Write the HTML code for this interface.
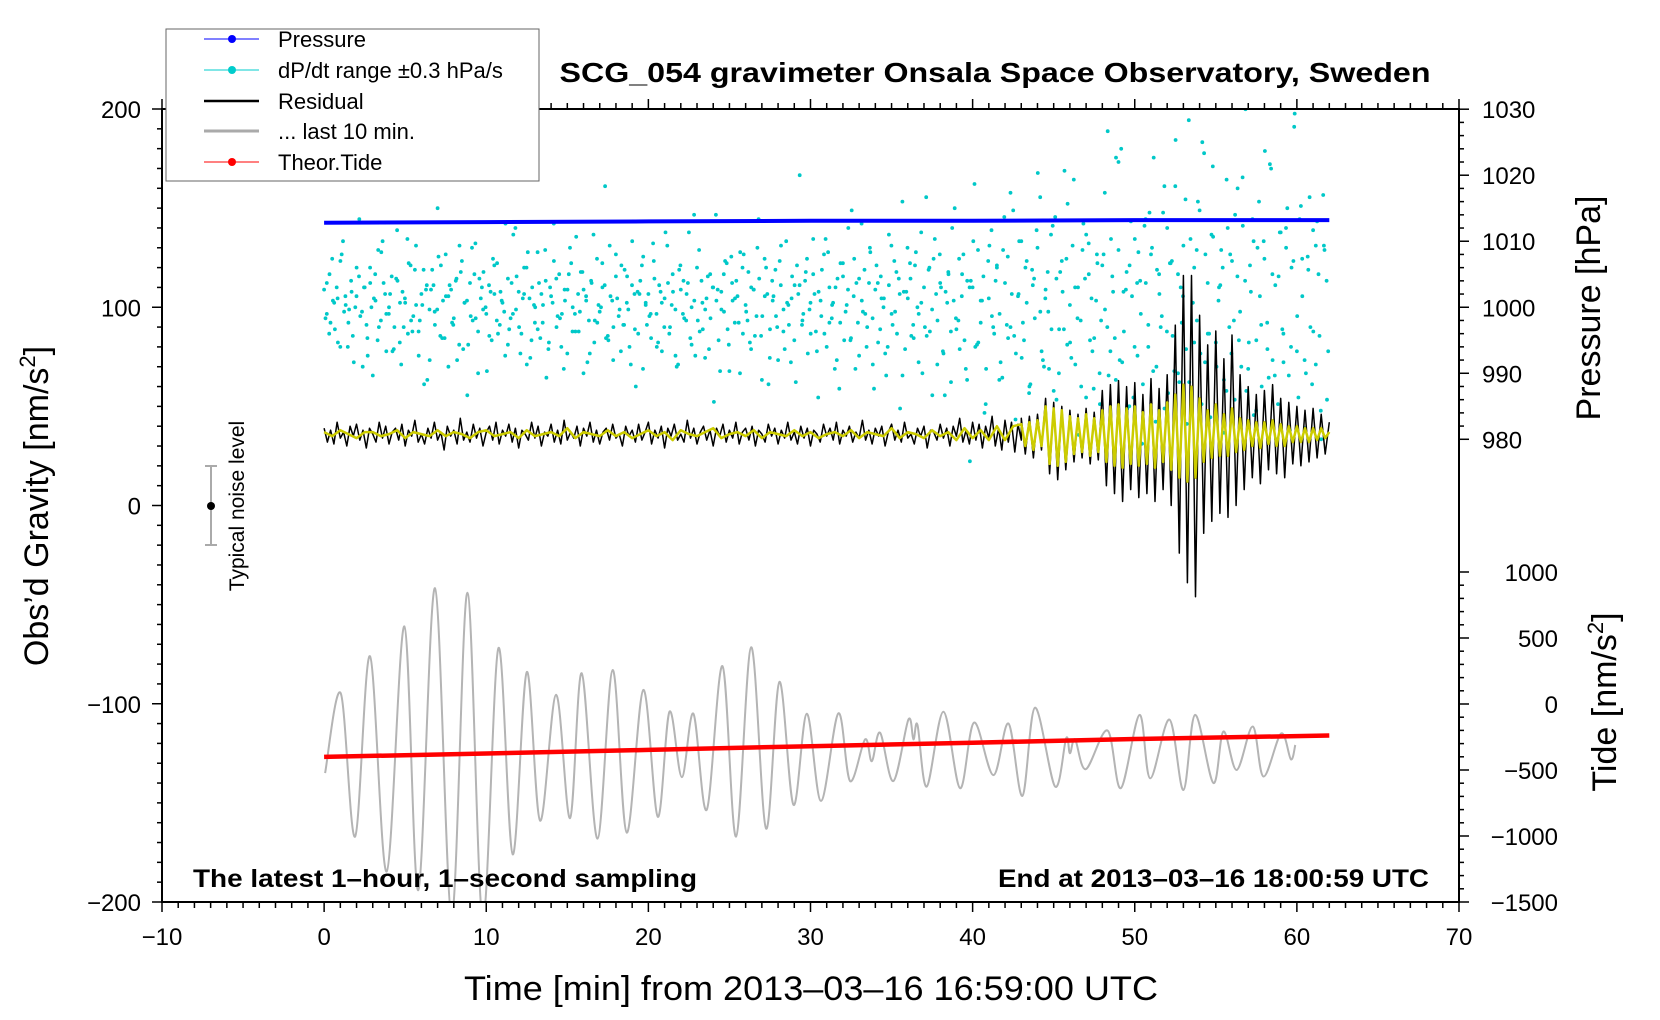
<!DOCTYPE html>
<html><head><meta charset="utf-8"><style>
html,body{margin:0;padding:0;background:#fff;}
svg{display:block;font-family:"Liberation Sans",Arial,sans-serif;}
</style></head><body>
<svg id="chart" width="1660" height="1020" viewBox="0 0 1660 1020" xmlns="http://www.w3.org/2000/svg">
<defs><clipPath id="pc"><rect x="162" y="109" width="1297" height="793"/></clipPath></defs>
<g id="marks" clip-path="url(#pc)"></g>
<rect x="162" y="109" width="1297" height="793" fill="none" stroke="#000" stroke-width="2"/>
<g id="axes"></g>
<text x="995" y="82" text-anchor="middle" font-size="28" font-weight="bold" textLength="871" lengthAdjust="spacingAndGlyphs">SCG_054 gravimeter Onsala Space Observatory, Sweden</text>
<text x="193" y="887" font-size="25" font-weight="bold" textLength="504" lengthAdjust="spacingAndGlyphs">The latest 1–hour, 1–second sampling</text>
<text x="1429" y="887" text-anchor="end" font-size="25" font-weight="bold" textLength="431" lengthAdjust="spacingAndGlyphs">End at 2013–03–16 18:00:59 UTC</text>
<text x="811" y="1000" text-anchor="middle" font-size="34" textLength="694" lengthAdjust="spacingAndGlyphs">Time [min] from 2013–03–16 16:59:00 UTC</text>
<text transform="translate(48,506) rotate(-90)" text-anchor="middle" font-size="34">Obs’d Gravity [nm/s<tspan font-size="22" dy="-13">2</tspan><tspan dy="13">]</tspan></text>
<text transform="translate(1600,308) rotate(-90)" text-anchor="middle" font-size="34">Pressure [hPa]</text>
<text transform="translate(1616,702) rotate(-90)" text-anchor="middle" font-size="34">Tide [nm/s<tspan font-size="22" dy="-13">2</tspan><tspan dy="13">]</tspan></text>
<g>
<line x1="211" y1="466" x2="211" y2="545" stroke="#aaa" stroke-width="2"/>
<line x1="205" y1="466" x2="217" y2="466" stroke="#aaa" stroke-width="2"/>
<line x1="205" y1="545" x2="217" y2="545" stroke="#aaa" stroke-width="2"/>
<circle cx="211" cy="506" r="4" fill="#000"/>
<text transform="translate(244,506) rotate(-90)" text-anchor="middle" font-size="21">Typical noise level</text>
</g>
<g>
<rect x="166" y="29" width="373" height="152" fill="#fff" stroke="#666" stroke-width="1"/>
<g><line x1="204" y1="39" x2="259" y2="39" stroke="#00f" stroke-width="1"/><circle cx="232" cy="39" r="4" fill="#00f"/><text x="278" y="47" font-size="22">Pressure</text></g>
<g><line x1="204" y1="70" x2="259" y2="70" stroke="#0cc" stroke-width="1"/><circle cx="232" cy="70" r="4" fill="#0cc"/><text x="278" y="78" font-size="22">dP/dt range ±0.3 hPa/s</text></g>
<g><line x1="204" y1="101" x2="259" y2="101" stroke="#000" stroke-width="2.5"/><text x="278" y="109" font-size="22">Residual</text></g>
<g><line x1="204" y1="131" x2="259" y2="131" stroke="#aaa" stroke-width="3"/><text x="278" y="139" font-size="22">... last 10 min.</text></g>
<g><line x1="204" y1="162" x2="259" y2="162" stroke="#f00" stroke-width="1"/><circle cx="232" cy="162" r="4" fill="#f00"/><text x="278" y="170" font-size="22">Theor.Tide</text></g>
</g>
</svg>
<script>
const xTicks=[-10,0,10,20,30,40,50,60,70];
const yTicks=[-200,-100,0,100,200];
const pTicks=[980,990,1000,1010,1020,1030];
const tideTicks=[-1500,-1000,-500,0,500,1000];
const pressureTimes=[0,10,20,30,40,50,62];
const pressureVals=[1012.8,1012.9,1013.0,1013.1,1013.1,1013.2,1013.2];
const tideTimes=[0,10,20,30,40,50,62];
const tideVals=[-401,-375,-348,-320,-293,-265,-239];
const dpdt=[8,-3,15,22,-10,4,-18,30,1,-7,12,-25,5,40,-2,9,-14,18,-31,3,26,-6,11,-20,0,14,-9,35,-16,7,2,-12,19,-4,28,-22,6,-35,10,-1,17,-8,45,-13,3,24,-27,8,-5,13,-17,21,2,-40,11,-6,29,-11,4,16,
-3,10,-15,6,20,-8,2,-22,13,-5,33,-1,7,-12,18,-26,4,9,-7,25,-14,1,12,-19,5,38,-9,15,-3,8,-21,27,0,-11,6,16,-30,3,-6,11,-16,22,-2,9,55,-13,5,-24,14,-4,19,-8,2,-18,30,-10,7,12,-28,1,
6,-14,21,-3,10,-20,4,28,-9,15,-1,-26,8,12,-6,34,-17,3,18,-11,2,-23,14,-5,9,42,-15,7,-2,20,-29,11,-7,5,25,-12,1,16,-19,8,-4,13,-33,22,6,-10,3,17,-24,10,-1,30,-8,4,-15,19,60,-6,12,-21,
2,15,-11,7,-4,24,-18,9,1,-28,13,-7,20,-2,36,-14,5,11,-22,3,17,-9,27,-5,8,-16,14,0,-31,10,-3,21,-12,6,48,-19,4,13,-8,25,-25,2,9,-13,18,-1,31,-6,11,-20,7,16,-34,3,-10,22,5,-15,12,-70,
9,-18,26,-7,14,-28,4,35,-12,19,-3,-32,11,23,-9,44,-21,6,30,-15,2,-36,17,-5,27,50,-24,8,-2,33,-38,13,-10,21,62,-17,1,28,-26,9,-6,38,-41,15,4,-14,24,-30,19,-1,80,-20,7,-33,26,72,-11,16,-45,5,
31,-22,12,-35,40,-8,24,68,-27,15,-4,-46,36,20,-13,55,-30,9,28,-19,85,-38,18,-6,44,75,-25,11,-50,32,-16,3,26,-33,58,-9,21,-42,14,-2,37,90,-28,7,30,-15,48,-36,22,-7,65,-24,10,-44,34,-12,27,-31,18,82,-20,40,5,-55,23,-9,35,-26,15,-60,28,12];
const dpdtB=[-5,-12,3,9,21,-2,-18,7,0,14,-27,-8,11,4,-15,25,6,-3,-20,13,2,-9,31,-6,17,-11,1,8,-24,10,
-1,19,-14,5,-7,12,28,-19,3,-4,15,-30,9,0,-13,22,-6,7,-2,-17,11,36,-9,4,18,-23,1,-10,6,26,
-16,2,13,-5,-28,8,20,-3,-11,16,5,-21,33,-7,0,10,-15,3,24,-1,-8,14,-26,6,-12,19,2,-4,29,-18,
7,-9,11,1,-22,17,-3,6,-14,42,-6,12,-1,-19,9,3,-29,15,-10,23,4,-7,18,-2,-16,8,27,-13,5,-35,
12,-4,21,-11,2,-25,10,6,-8,16,-1,31,-20,3,-12,25,-5,9,-37,14,1,-15,22,-7,38,-3,11,-26,19,-10,
4,-18,28,-2,13,-31,7,20,-14,0,34,-9,17,-40,6,24,-21,2,-11,45,-6,15,-28,9,30,-17,3,-48,21,-4,
12,-33,26,-8,52,-13,5,-23,18,-39,10,35,-2,-27,16,-10,41,-30,7,22,-16,58,-5,-36,13,29,-20,3,-44,24,
-9,31,-14,66,-25,8,19,-41,11,-3,37,-18,27,-52,6,43,-11,20,-29,15,-7,49,-34,2,26,-21,70,-12,33,-45,
9,18,-38,24,-6,54,-27,12,-16,40,-47,5,30,-19,63,-31,14,-10,36,-56,21,-4,46,-24,17,-35,28,-13,51,-42];
const dpdtC=[11,-7,2,-16,24,5,-1,-13,18,-4,9,-22,0,15,-9,30,-3,6,-19,12,-26,4,20,-11,1,-6,17,-33,8,-2,
23,-14,5,10,-8,-24,16,2,-17,27,-5,13,-1,-29,7,19,-12,3,38,-10,-3,14,-21,6,25,-15,0,11,-7,-32,
9,21,-4,-18,3,15,-11,32,-2,8,-25,12,-6,1,20,-14,28,-9,4,-20,17,-1,10,-36,6,23,-8,-3,13,-16,
2,34,-12,7,-27,19,-5,11,0,-22,26,-10,4,15,-43,8,-1,21,-17,3,12,-30,24,-6,9,-13,40,-4,18,-23,
5,-9,28,-19,1,14,-34,10,-3,22,-12,6,-41,17,31,-7,2,-24,20,-15,8,44,-28,13,-2,-18,25,-37,11,4,
-21,33,-8,16,-46,7,27,-13,19,-3,-30,50,-11,22,-26,9,-40,15,36,-5,-19,24,-33,12,56,-16,3,-44,28,-9,
18,-25,41,-14,6,-51,30,-7,21,-35,13,61,-20,4,-28,37,-42,16,-10,47,-23,9,-58,26,33,-15,-37,20,-6,52,
-31,14,68,-24,7,-46,39,-18,25,-62,11,43,-29,17,-9,55,-39,21,76,-34,5,-53,31,-16,48,-44,24,-12,64,-27,
10,-57,36,-21,42,-15,59,-38,19,-49,27,-8,71,-32,15,-60,34,-25,45,-18,88,-41,22,-30,50,-11,39,-47,26,-20];
const residualBase=36;
const residualQuiet=[3,-4,2,-5,6,-2,1,-6,4,-1,5,-3,2,-7,3,0,-4,6,-2,4,-5,1,3,-3,
5,-6,2,-1,7,-4,0,-5,3,-2,6,-3,1,-8,4,-1,2,-5,8,-3,1,-4,5,-2,
3,-6,1,4,-3,6,-5,2,-1,5,-4,3,-7,2,0,-3,6,-2,4,-6,1,-1,5,-4,
2,-5,7,-3,1,-2,4,-6,3,-1,6,-4,2,-5,1,3,-3,5,-2,0,-6,4,-1,2,
-4,5,-3,1,6,-5,2,-2,4,-7,3,-1,5,-3,0,-4,7,-2,3,-5,1,4,-3,2,
-6,3,-1,5,-4,2,-2,6,-5,1,3,-3,4,-6,2,0,-4,5,-1,3,-5,2,-2,6,
-3,1,-5,4,-2,3,-6,2,0,-4,5,-1,3,-3,6,-5,2,-1,4,-4,1,-2,7,-3,
2,-5,3,-1,4,-6,1,5,-3,2,-4,6,-2,0,-5,3,-1,4,-7,2,1,-3,5,-2,
3,-6,4,-1,8,-4,2,-5,6,-3,5,-7,4,-2,9,-6,3,-8,7,-4,6,-9,5,-3];
const residualActive=[8,-10,9,-12,10,-8,18,-20,16,-23,14,-18,12,-14,10,-12,13,-15,11,-13,
22,-26,25,-30,27,-34,24,-28,26,-32,20,-30,28,-34,23,-28,30,-36,55,-60,80,-75,80,-82,60,
-50,45,-44,52,-40,38,-42,50,-36,30,-28,24,-22,20,-25,22,-18,25,-20,18,-22,16,-15,14,-16,12,-14,13,-12,10,-10,6];
const yellowQuiet=[1,-1,2,0,-2,1,1,-1,0,2,-2,1,0,-1,2,-1,1,0,-2,1,2,-1,0,1,-2,2,-1,0,1,-1,3,-2,1,0,-1,2,-1,1,-2,0,2,-1,1,-3,2,0,-1,1,3,-2,0,1,-1,2,-2,1,0,-1,2,-1,1,-2,0,1,-1,2,-2,1,0,-1,3,-2,1,0,-2,2,-1,1,-3,3,-2,2,-3,4,-3,4];
const yellowActive=[5,-6,6,-8,7,-6,14,-15,13,-16,12,-14,9,-10,8,-9,10,-11,8,-9,12,-14,14,-16,15,-17,13,-15,14,-16,11,-15,15,-17,12,-14,16,-18,20,-22,25,-24,24,-22,18,-14,12,-12,15,-11,10,-11,13,-9,8,-8,7,-6,6,-7,6,-5,7,-6,5,-6,4,-4,4,-4,3,-4,3,-3,3,-2,1];
const last10Times=[0.06,1.02,1.91,2.83,3.86,4.95,5.81,6.84,7.87,8.84,9.78,10.75,11.63,12.5,13.32,14.31,15.17,15.89,16.86,17.8,18.66,19.69,20.58,21.3,22.06,22.78,23.6,24.57,25.41,26.34,27.26,28.08,28.95,29.77,30.65,31.72,32.44,33.37,33.78,34.29,35.11,36.04,36.35,36.6,37.17,38.2,39.23,40.09,41.28,42.21,43.07,43.85,45.09,45.77,46.0,46.32,46.98,48.32,49.14,50.29,50.95,52.14,53.0,53.72,54.85,55.47,56.29,57.28,57.94,59.03,59.63,59.9];
const last10Vals=[-135,-94.7,-167,-76,-184.6,-61,-194,-41.7,-207,-44,-209,-72,-176,-84,-159,-95.5,-157.7,-84.6,-168,-83,-165,-93,-157,-104,-137,-105,-153.5,-81,-167,-71.5,-163,-89,-151,-105,-149,-104.8,-139,-118,-129,-114.6,-139,-108,-118,-110.7,-141.8,-104,-142.6,-109.5,-136,-110,-146.5,-102,-141.8,-117.4,-125,-118,-133,-113.5,-142.6,-105.6,-137.6,-108,-143.5,-105.6,-140,-114,-133.4,-111.5,-136.7,-115,-128,-120.8];

const NS='http://www.w3.org/2000/svg';
const X=t=>162+(t+10)*16.2125;
const Yg=g=>109+(200-g)*1.9825;
const Yp=p=>Yg(100+(p-1000)*3.33);
const Yt=v=>704-v*0.132;
const marks=document.getElementById('marks');
const axes=document.getElementById('axes');
function mk(tag,attrs,parent){const e=document.createElementNS(NS,tag);for(const k in attrs)e.setAttribute(k,attrs[k]);parent.appendChild(e);return e;}
const fmt=v=>(v<0?'\u2212':'')+Math.abs(v);

// cyan dp/dt dots
const gC=mk('g',{},marks);


[[dpdt,0],[dpdtB,0.37],[dpdtC,0.71]].forEach(([arr,off])=>{
 arr.forEach((v,i)=>{const t=(i+off)*62/arr.length;
  const c=mk('circle',{cx:X(t).toFixed(1),cy:Yp(1000+v*0.3333).toFixed(1),r:1.9,fill:'#00c8c8'},gC);
  
  });
});

// pressure
let d=pressureTimes.map((t,i)=>(i?'L':'M')+X(t).toFixed(1)+','+Yp(pressureVals[i]).toFixed(1)).join('');
const pl=mk('path',{d:d,stroke:'#0000ff','stroke-width':4,fill:'none'},marks);



// residual black
let pts=[];residualQuiet.forEach((v,i)=>pts.push([i*0.2,residualBase+v]));
residualActive.forEach((v,i)=>pts.push([43+i*0.25,residualBase+v]));
d=pts.map((p,i)=>(i?'L':'M')+X(p[0]).toFixed(1)+','+Yg(p[1]).toFixed(1)).join('');
const rl=mk('path',{d:d,stroke:'#000','stroke-width':1.5,fill:'none','stroke-linejoin':'round'},marks);



// yellow smoothed
pts=[];yellowQuiet.forEach((v,i)=>pts.push([i*0.5,residualBase+v]));
yellowActive.forEach((v,i)=>pts.push([43+i*0.25,residualBase+v]));
d=pts.map((p,i)=>(i?'L':'M')+X(p[0]).toFixed(1)+','+Yg(p[1]).toFixed(1)).join('');
const yl=mk('path',{d:d,stroke:'#cccc00','stroke-width':2.5,fill:'none','stroke-linejoin':'round'},marks);



// gray last 10 min (smooth curve)
const gp=last10Times.map((t,i)=>[X(t),Yg(last10Vals[i])]);
d='M'+gp[0][0].toFixed(1)+','+gp[0][1].toFixed(1);
for(let i=0;i<gp.length-1;i++){const p0=gp[Math.max(0,i-1)],p1=gp[i],p2=gp[i+1],p3=gp[Math.min(gp.length-1,i+2)];
 const c1x=p1[0]+(p2[0]-p0[0])/6,c1y=p1[1]+(p2[1]-p0[1])/6,c2x=p2[0]-(p3[0]-p1[0])/6,c2y=p2[1]-(p3[1]-p1[1])/6;
 d+='C'+c1x.toFixed(1)+','+c1y.toFixed(1)+' '+c2x.toFixed(1)+','+c2y.toFixed(1)+' '+p2[0].toFixed(1)+','+p2[1].toFixed(1);}
const gl=mk('path',{d:d,stroke:'#b4b4b4','stroke-width':2,fill:'none'},marks);



// tide
d=tideTimes.map((t,i)=>(i?'L':'M')+X(t).toFixed(1)+','+Yt(tideVals[i]).toFixed(1)).join('');
const tl=mk('path',{d:d,stroke:'#ff0000','stroke-width':4.5,fill:'none'},marks);



// axes ticks
const tk={stroke:'#000','stroke-width':1.5};
for(let t=-10;t<=70;t+=1){const x=X(t),L=(t%10===0)?10:6;
 mk('line',Object.assign({x1:x,y1:902,x2:x,y2:902+L},tk),axes);
 mk('line',Object.assign({x1:x,y1:109,x2:x,y2:109-L},tk),axes);}
xTicks.forEach(t=>{const e=mk('text',{x:X(t),y:945,'text-anchor':'middle','font-size':24},axes);e.textContent=fmt(t);
 
 });
for(let g=-200;g<=200;g+=10){const y=Yg(g),L=(g%100===0)?10:5;mk('line',Object.assign({x1:162,y1:y,x2:162-L,y2:y},tk),axes);}
yTicks.forEach(g=>{const e=mk('text',{x:141,y:Yg(g)+9,'text-anchor':'end','font-size':24},axes);e.textContent=fmt(g);
 
 });
for(let p=980;p<=1030;p+=2){const y=Yp(p),L=(p%10===0)?10:5;mk('line',Object.assign({x1:1459,y1:y,x2:1459+L,y2:y},tk),axes);}
pTicks.forEach(p=>{const e=mk('text',{x:1482,y:Yp(p)+9,'font-size':24},axes);e.textContent=fmt(p);
 
 });
for(let v=-1500;v<=1000;v+=100){const y=Yt(v),L=(v%500===0)?10:5;mk('line',Object.assign({x1:1459,y1:y,x2:1459+L,y2:y},tk),axes);}
tideTicks.forEach(v=>{const e=mk('text',{x:1558,y:Yt(v)+9,'text-anchor':'end','font-size':24},axes);e.textContent=fmt(v);
 
 });
</script>
</body></html>
